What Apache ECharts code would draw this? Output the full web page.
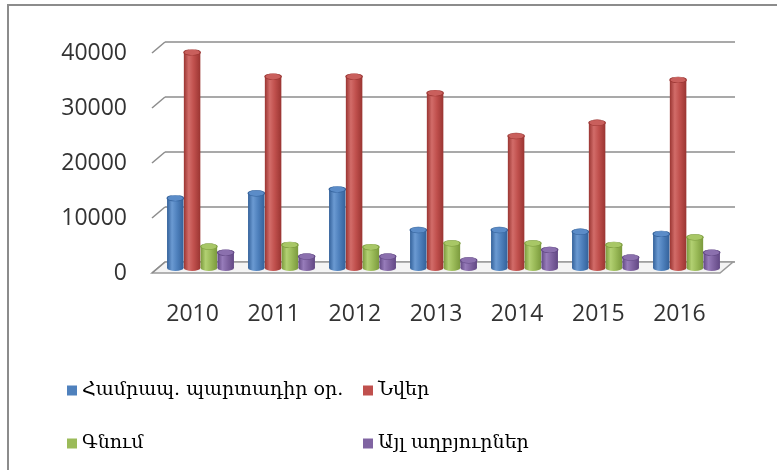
<!DOCTYPE html>
<html>
<head>
<meta charset="utf-8">
<script src="https://cdn.jsdelivr.net/npm/echarts@6/dist/echarts.min.js"></script>
<style>
  body { margin: 0; background: #fff; }
  #chart { width: 777px; height: 470px; }
  #frame { position: absolute; left: 7px; top: 4px; right: 0; bottom: 0;
           border-left: 2px solid #8c8c8c; border-top: 2px solid #8c8c8c; pointer-events: none; }
</style>
</head>
<body>
<div id="chart"></div>
<div id="frame"></div>
<script>
// data
var years = ['2010', '2011', '2012', '2013', '2014', '2015', '2016'];
var mandatory = [12700, 13600, 14300, 6900, 6900, 6600, 6200];
var gifts = [39200, 34800, 34800, 31800, 24000, 26400, 34200];
var purchase = [3900, 4200, 3800, 4500, 4500, 4200, 5600];
var other = [2800, 2100, 2100, 1400, 3300, 1900, 2800];
var yTicks = [0, 10000, 20000, 30000, 40000];

var names = ['Համրապ. պարտադիր օր.', 'Նվեր', 'Գնում', 'Այլ աղբյուրներ'];
var colors = [
  { base: '#4F81BD', dark: '#33619a', light: '#6b9ad2', top: '#5b8cc8' },
  { base: '#C0504D', dark: '#9a3532', light: '#d26c69', top: '#c95f5c' },
  { base: '#9BBB59', dark: '#7b9a3d', light: '#b2d072', top: '#a8c766' },
  { base: '#8064A2', dark: '#624884', light: '#977cba', top: '#8b70ae' }
];
var depthX = 13, depthY = -11;

var chart = echarts.init(document.getElementById('chart'));

function pairs(arr) {
  return arr.map(function (v, i) { return [i, v]; });
}

// cylinder bars
function cylinder(s) {
  var c = colors[s];
  return function (params, api) {
    var i = api.value(0), v = api.value(1);
    var top = api.coord([i, v]), base = api.coord([i, 0]);
    var cx = top[0] + (s - 1.5) * 16.8;
    var w = 16.5, r = w / 2, ry = 3;
    var body = new echarts.graphic.LinearGradient(0, 0, 1, 0, [
      { offset: 0, color: c.dark },
      { offset: 0.3, color: c.light },
      { offset: 0.6, color: c.base },
      { offset: 1, color: c.dark }
    ]);
    return {
      type: 'group',
      children: [
        { type: 'circle', shape: { cx: 0, cy: 0, r: r }, x: cx, y: base[1], scaleY: ry / r,
          style: { fill: body } },
        { type: 'rect', shape: { x: cx - r, y: top[1], width: w, height: base[1] - top[1] },
          style: { fill: body } },
        { type: 'circle', shape: { cx: 0, cy: 0, r: r }, x: cx, y: top[1], scaleY: ry / r,
          style: { fill: c.top, stroke: c.dark, lineWidth: 1.2 } }
      ]
    };
  };
}

var series = [];

// floor slab
series.push({
  type: 'custom', xAxisIndex: 1, yAxisIndex: 1, silent: true, z: 1,
  data: [[0, 0]],
  renderItem: function (params, api) {
    var half = api.size([1, 0])[0] / 2;
    var fl = api.coord([0, 0]), fr = api.coord([years.length - 1, 0]);
    var x0 = fl[0] - half, x1 = fr[0] + half, y = fl[1];
    return {
      type: 'polygon',
      shape: { points: [[x0, y], [x1, y], [x1 + depthX, y + depthY], [x0 + depthX, y + depthY]] },
      style: { fill: '#f4f4f4', stroke: '#9a9a9a', lineWidth: 1.5 }
    };
  }
});

// slanted ticks joining front labels to back wall
series.push({
  type: 'custom', xAxisIndex: 1, yAxisIndex: 1, silent: true, z: 2,
  data: yTicks.map(function (v) { return [0, v]; }),
  renderItem: function (params, api) {
    var p = api.coord([0, api.value(1)]);
    var x0 = p[0] - api.size([1, 0])[0] / 2;
    return {
      type: 'line',
      shape: { x1: x0, y1: p[1], x2: x0 + depthX, y2: p[1] + depthY },
      style: { stroke: '#8c8c8c', lineWidth: 1.5 }
    };
  }
});

[mandatory, gifts, purchase, other].forEach(function (arr, s) {
  series.push({
    name: names[s], type: 'custom', xAxisIndex: 2, yAxisIndex: 2, z: 5,
    itemStyle: { color: colors[s].base },
    data: pairs(arr),
    renderItem: cylinder(s)
  });
});

var legendText = { fontFamily: 'DejaVu Serif', fontSize: 19, color: '#000' };

chart.setOption({
  animation: false,
  color: colors.map(function (c) { return c.base; }),
  grid: [
    { left: 165, right: 42, top: 42, bottom: 208 },
    { left: 152, right: 57, top: 53, bottom: 197 },
    { left: 160, right: 50, top: 48, bottom: 202 }
  ],
  xAxis: [
    { type: 'category', gridIndex: 0, data: years, show: false },
    { type: 'category', gridIndex: 1, data: years,
      axisLine: { show: false }, axisTick: { show: false },
      axisLabel: { margin: 30, fontFamily: 'Open Sans', fontSize: 23, color: '#333' } },
    { type: 'category', gridIndex: 2, data: years, show: false }
  ],
  yAxis: [
    { type: 'value', gridIndex: 0, min: 0, max: 40000, interval: 10000,
      axisLabel: { show: false }, axisLine: { show: false }, axisTick: { show: false },
      splitLine: { lineStyle: { color: '#8c8c8c', width: 1.5 } } },
    { type: 'value', gridIndex: 1, min: 0, max: 40000, interval: 10000,
      axisLine: { show: false }, axisTick: { show: false }, splitLine: { show: false },
      axisLabel: { margin: 25, fontFamily: 'Open Sans', fontSize: 23, color: '#333',
                   padding: [6, 0, 0, 0],
                   formatter: function (v) { return String(v); } } },
    { type: 'value', gridIndex: 2, min: 0, max: 40000, interval: 10000, show: false,
      splitLine: { show: false } }
  ],
  legend: [
    { data: [names[0], names[2]], orient: 'vertical', left: 62, top: 376, itemGap: 34,
      icon: 'rect', itemWidth: 10, itemHeight: 10, textStyle: legendText },
    { data: [names[1], names[3]], orient: 'vertical', left: 358, top: 376, itemGap: 34,
      icon: 'rect', itemWidth: 10, itemHeight: 10, textStyle: legendText }
  ],
  series: series
});
</script>
</body>
</html>
